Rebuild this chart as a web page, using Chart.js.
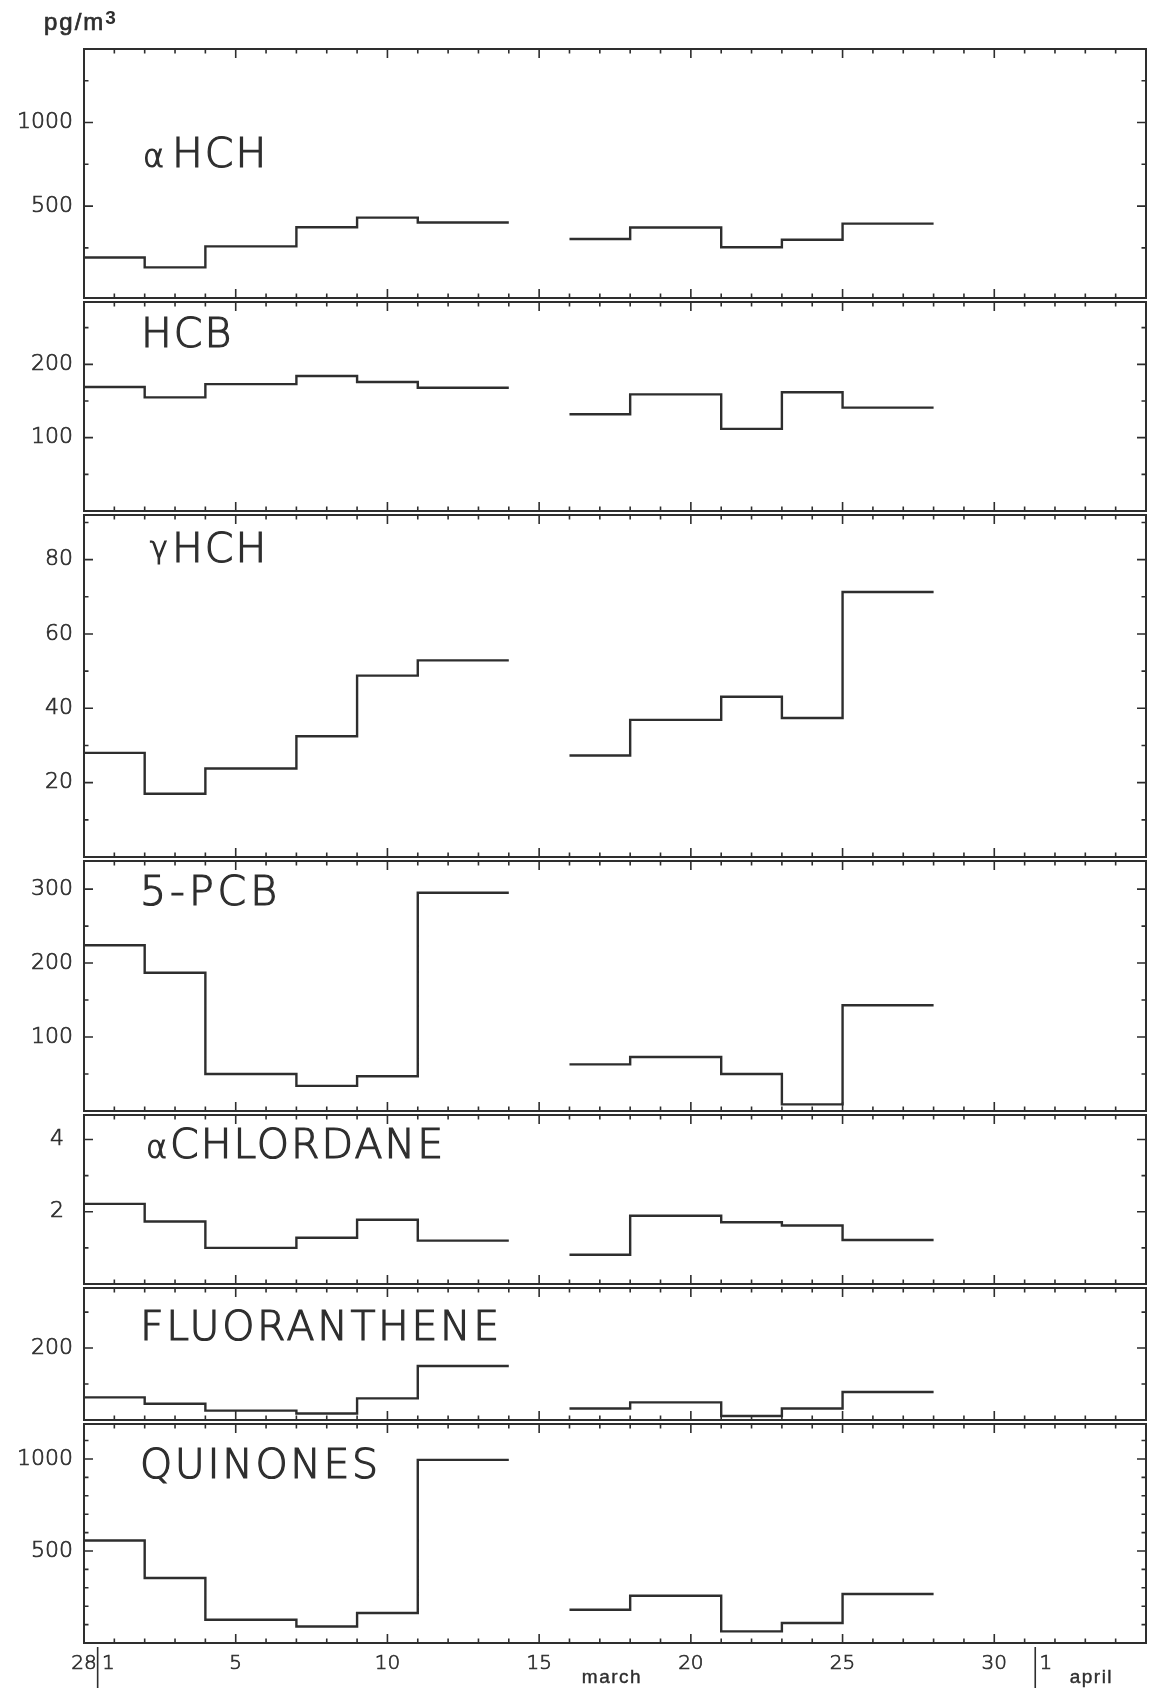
<!DOCTYPE html>
<html>
<head>
<meta charset="utf-8">
<script src="https://cdn.jsdelivr.net/npm/chart.js@4.4.0/dist/chart.umd.min.js"></script>
<style>
body{margin:0;background:#fff}
#wrap{position:relative;width:1150px;height:1691px;overflow:hidden;background:#fff}
#wrap canvas{position:absolute;left:0}
</style>
</head>
<body>
<div id="wrap"></div>
<script>
// sampling periods in days, 0 = 28 Feb, 1 = 1 March ... 32 = 1 April
const periodStart=[0,2,4,7,9,11,16,18,21,23,25]
const periodEnd=[2,4,7,9,11,14,18,21,23,25,28]

// concentrations per period (pg/m3)
const alphaHCH=[192,133,259,373,431,402,303,372,254,299,395]
const hcb=[169,155,173,184,176,168,132,159,112,162,141]
const gammaHCH=[28,17,23.8,32.5,48.8,52.9,27.3,36.9,43.1,37.4,71.3]
const pcb5=[224,187,50,34,47,295,63,73,50,9,143]
const alphaChlordane=[2.22,1.73,1.0,1.28,1.78,1.2,0.81,1.89,1.71,1.62,1.22]
const fluoranthene=[63,45,26,18,60,150,32,49,11,32,78]
const quinones=[557,353,126,90,163,995,181,257,63,109,266]

// x axis labels
const dayTicks=[0,0.8,5,10,15,20,25,30,31.7]
const dayLabels=['28','1','5','10','15','20','25','30','1']
const monthBreaks=[0.45,31.35]
const monthNames=['march','april']
const monthPos=[17.4,33.2]

// y tick labels
const alphaHCHTicks=[500,1000]
const hcbTicks=[100,200]
const gammaHCHTicks=[20,40,60,80]
const pcb5Ticks=[100,200,300]
const chlordaneTicks=[2,4]
const fluorTicks=[200]
const quinoneTicks=[500,1000]

const W=1150, plotLeft=84, plotRight=1146
const ink='#2e2e2e'
const numFont={family:'"DejaVu Sans"',size:22,weight:'200'}

const panels=[
  {values:alphaHCH,ticks:alphaHCHTicks,min:-50,max:1440,step:250,from:250,top:49,bottom:302,padTop:49,unit:true,
   name:[{t:'α',x:143,size:32},{t:'HCH',x:172}],base:167},
  {values:hcb,ticks:hcbTicks,min:0,max:285,step:50,from:50,top:302,bottom:515,
   name:[{t:'HCB',x:141}],base:347},
  {values:gammaHCH,ticks:gammaHCHTicks,min:0,max:92,step:10,from:10,top:515,bottom:861,
   name:[{t:'γ',x:150,size:30,dy:-4},{t:'HCH',x:172}],base:562},
  {values:pcb5,ticks:pcb5Ticks,min:0,max:338,step:50,from:50,top:861,bottom:1115,
   name:[{t:'5-PCB',x:140,ls:4}],base:905},
  {values:alphaChlordane,ticks:chlordaneTicks,min:0,max:4.68,step:1,from:1,top:1115,bottom:1288,pad:20,
   name:[{t:'α',x:146,size:32},{t:'CHLORDANE',x:170}],base:1158},
  {values:fluoranthene,ticks:fluorTicks,min:0,max:367,step:100,from:100,top:1288,bottom:1424,
   name:[{t:'FLUORANTHENE',x:140,ls:2.6}],base:1340},
  {values:quinones,ticks:quinoneTicks,min:0,max:1190,step:100,from:100,top:1424,bottom:1643,last:true,
   name:[{t:'QUINONES',x:140,ls:2.6}],base:1478}
]

function stepPoints(vals){
  const pts=[]
  vals.forEach((v,i)=>{
    if(i>0&&periodStart[i]!==periodEnd[i-1]) pts.push({x:(periodEnd[i-1]+periodStart[i])/2,y:null})
    pts.push({x:periodStart[i],y:v},{x:periodEnd[i],y:v})
  })
  return pts
}

function inkText(ctx,t,x,y,sw){
  ctx.fillText(t,x,y)
  ctx.lineWidth=sw
  ctx.strokeText(t,x,y)
}

// box around each panel with inward ticks on all four sides
const framePlugin={
  id:'frame',
  afterDraw(chart){
    const p=chart.options.plugins.frame.panel
    const {ctx,chartArea:a,scales:{x,y}}=chart
    const top=p.top-(p.padTop||4)
    ctx.save()
    ctx.strokeStyle=ink
    ctx.fillStyle=ink
    ctx.lineWidth=2
    ctx.strokeRect(a.left,a.top,a.right-a.left,a.bottom-a.top)
    ctx.lineWidth=1.6
    ctx.beginPath()
    for(let d=1;d<35;d++){
      const px=x.getPixelForValue(d),len=d%5===0?9:4.5
      ctx.moveTo(px,a.top);ctx.lineTo(px,a.top+len)
      ctx.moveTo(px,a.bottom);ctx.lineTo(px,a.bottom-len)
    }
    for(let k=Math.round(p.from/p.step);k*p.step<p.max;k++){
      const v=k*p.step,py=y.getPixelForValue(v)
      const len=p.ticks.includes(v)?9:4.5
      ctx.moveTo(a.left,py);ctx.lineTo(a.left+len,py)
      ctx.moveTo(a.right,py);ctx.lineTo(a.right-len,py)
    }
    ctx.stroke()
    // compound name
    ctx.textBaseline='alphabetic'
    p.name.forEach(r=>{
      ctx.font='200 '+(r.size||41)+'px "DejaVu Sans"'
      ctx.letterSpacing=(r.ls||2)+'px'
      inkText(ctx,r.t,r.x,p.base-top+(r.dy||0),1.2)
    })
    ctx.letterSpacing='0px'
    if(p.unit){
      ctx.font='24px "Liberation Sans"'
      ctx.letterSpacing='2px'
      inkText(ctx,'pg/m',44,30,0.7)
      const w=ctx.measureText('pg/m').width
      ctx.letterSpacing='0px'
      ctx.font='bold 19px "Liberation Sans"'
      ctx.fillText('3',44+w,24)
    }
    if(p.last){
      ctx.lineWidth=1.6
      ctx.beginPath()
      monthBreaks.forEach(b=>{
        const px=x.getPixelForValue(b)
        ctx.moveTo(px,1647-top);ctx.lineTo(px,1688-top)
      })
      ctx.stroke()
      ctx.font='19px "Liberation Sans"'
      ctx.letterSpacing='1.5px'
      ctx.textAlign='center'
      monthNames.forEach((m,i)=>inkText(ctx,m,x.getPixelForValue(monthPos[i]),1683-top,0.4))
    }
    ctx.restore()
  }
}

const wrap=document.getElementById('wrap')
panels.forEach(p=>{
  const padTop=p.padTop||4
  const ctop=p.top-padTop
  const h=p.last?1691-ctop:p.bottom-p.top+padTop+4
  const cv=document.createElement('canvas')
  cv.width=W;cv.height=h
  cv.style.top=ctop+'px';cv.style.width=W+'px';cv.style.height=h+'px'
  wrap.appendChild(cv)
  new Chart(cv,{
    type:'line',
    data:{datasets:[{data:stepPoints(p.values),borderColor:ink,borderWidth:2.4,pointRadius:0,
      fill:false,tension:0,spanGaps:false,borderCapStyle:'butt'}]},
    options:{
      responsive:false,animation:false,
      layout:{padding:{left:0,right:W-plotRight,top:padTop,bottom:p.last?0:4}},
      plugins:{legend:{display:false},tooltip:{enabled:false},frame:{panel:p}},
      scales:{
        x:{type:'linear',min:0,max:35,display:!!p.last,
          afterBuildTicks:s=>{s.ticks=dayTicks.map(v=>({value:v}))},
          afterFit:s=>{s.height=h-padTop-(p.bottom-p.top);s.paddingLeft=0;s.paddingRight=0},
          grid:{display:false,drawTicks:false},border:{display:false},
          ticks:{autoSkip:false,maxRotation:0,padding:9,color:ink,textStrokeColor:ink,textStrokeWidth:0.7,
            font:{family:'"DejaVu Sans"',size:20,weight:'200'},
            callback:(v,i)=>dayLabels[i]}},
        y:{type:'linear',min:p.min,max:p.max,
          afterBuildTicks:s=>{s.ticks=p.ticks.map(v=>({value:v}))},
          afterFit:s=>{s.width=plotLeft;s.paddingTop=0;s.paddingBottom=0},
          grid:{display:false,drawTicks:false},border:{display:false},
          ticks:{padding:p.pad||11,color:ink,textStrokeColor:ink,textStrokeWidth:0.7,font:numFont,
            callback:v=>String(v)}}
      }
    },
    plugins:[framePlugin]
  })
})
</script>
</body>
</html>
